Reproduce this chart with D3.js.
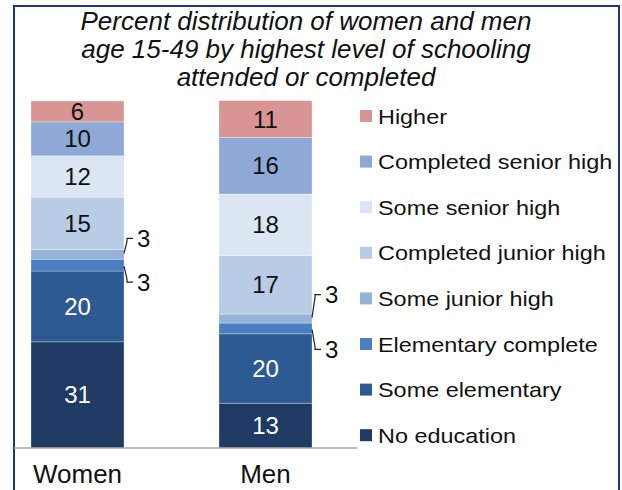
<!DOCTYPE html>
<html><head><meta charset="utf-8">
<script src="https://cdn.jsdelivr.net/npm/d3@7"></script>
<style>body{margin:0;background:#fff}svg{display:block}text{font-family:"Liberation Sans",Arial,sans-serif}</style>
</head><body><div id="c"></div>
<script>
const groups = ["Women", "Men"];
const categories = ["No education","Some elementary","Elementary complete","Some junior high","Completed junior high","Some senior high","Completed senior high","Higher"];
const womenValues = [30.6, 20.4, 3.4, 2.8, 15.1, 11.9, 9.8, 6.0];
const menValues = [12.9, 20.0, 3.1, 2.6, 16.9, 17.7, 16.3, 10.6];
const colors = ["#1f3a63","#2e5a93","#4a7ec0","#95b3d8","#b8cce5","#dce6f2","#8ea9d6","#d99594"];
const whiteLabel = ["No education","Some elementary"];
const calloutCats = ["Elementary complete","Some junior high"];
const titleLines = ["Percent distribution of women and men","age 15-49 by highest level of schooling","attended or completed"];

const W = 622, H = 490;
const svg = d3.select("#c").append("svg").attr("width", W).attr("height", H);

// frame
svg.append("path").attr("d", `M14,495 L14,6 L619,6 L619,495`).attr("fill","none").attr("stroke","#1e3582").attr("stroke-width",2);

// title
svg.append("g").selectAll("text").data(titleLines).join("text")
  .attr("x", 306).attr("y", (d,i)=>30+i*28).attr("text-anchor","middle")
  .attr("font-size",26).attr("font-style","italic").attr("fill","#111").text(d=>d);

const x = d3.scaleBand().domain(groups).range([31,312]).paddingInner(1-93/188).paddingOuter(0);
const y = d3.scaleLinear().domain([0,100]).range([448,101]);

const valuesBy = {Women: womenValues, Men: menValues};
const rows = groups.map(g => { const o = {group:g}; categories.forEach((c,i)=>o[c]=valuesBy[g][i]); return o; });
const series = d3.stack().keys(categories)(rows);

const gBars = svg.append("g");
series.forEach((s,si) => {
  s.forEach(d => {
    const g = d.data.group;
    gBars.append("rect").attr("x", x(g)).attr("width", x.bandwidth())
      .attr("y", y(d[1])).attr("height", y(d[0]) - y(d[1]))
      .attr("fill", colors[si]).attr("stroke","#ffffff").attr("stroke-opacity",0.35).attr("stroke-width",0.8);
    const v = d[1]-d[0];
    if (!calloutCats.includes(s.key)) {
      gBars.append("text").attr("x", x(g)+x.bandwidth()/2).attr("y", (y(d[0])+y(d[1]))/2 + 8.5)
        .attr("text-anchor","middle").attr("font-size",24)
        .attr("fill", whiteLabel.includes(s.key) ? "#ffffff" : "#111")
        .text(Math.round(v));
    }
  });
});

// callouts
const calloutOffsets = {Women:[-16,17], Men:[-24,21]};
groups.forEach(g => {
  const xr = x(g)+x.bandwidth();
  const sSJH = series[categories.indexOf("Some junior high")].find(d=>d.data.group===g);
  const sEC = series[categories.indexOf("Elementary complete")].find(d=>d.data.group===g);
  const cU = (y(sSJH[0])+y(sSJH[1]))/2, cL = (y(sEC[0])+y(sEC[1]))/2;
  const [oU,oL] = calloutOffsets[g];
  const yU = cU + oU, yL = cL + oL;
  svg.append("path").attr("d", `M${xr},${cU-1} L${xr+3},${yU+3} L${xr+3},${yU} L${xr+9},${yU}`)
    .attr("fill","none").attr("stroke","#222").attr("stroke-width",1.2);
  svg.append("path").attr("d", `M${xr},${cL+1} L${xr+3},${yL-3} L${xr+3},${yL} L${xr+9},${yL}`)
    .attr("fill","none").attr("stroke","#222").attr("stroke-width",1.2);
  svg.append("text").attr("x", xr+13).attr("y", yU+8.5).attr("font-size",24).attr("fill","#111").text(Math.round(sSJH[1]-sSJH[0]));
  svg.append("text").attr("x", xr+13).attr("y", yL+8.5).attr("font-size",24).attr("fill","#111").text(Math.round(sEC[1]-sEC[0]));
});

// baseline
svg.append("line").attr("x1",14).attr("x2",357).attr("y1",448).attr("y2",448).attr("stroke","#a6a6a6").attr("stroke-width",1.5);

// x axis labels
svg.append("g").selectAll("text").data(groups).join("text")
  .attr("x", d=>x(d)+x.bandwidth()/2).attr("y",483).attr("text-anchor","middle")
  .attr("font-size",26).attr("fill","#111").text(d=>d);

// legend
const legendItems = categories.slice().reverse();
const lg = svg.append("g").selectAll("g").data(legendItems).join("g")
  .attr("transform",(d,i)=>`translate(360,${116 + i*45.6})`);
lg.append("rect").attr("x",0).attr("y",-6).attr("width",12).attr("height",12)
  .attr("fill", d=>colors[categories.indexOf(d)]);
lg.append("text").attr("transform","translate(18,7.5) scale(1.115,1)").attr("font-size",21).attr("fill","#111").text(d=>d);
</script></body></html>
